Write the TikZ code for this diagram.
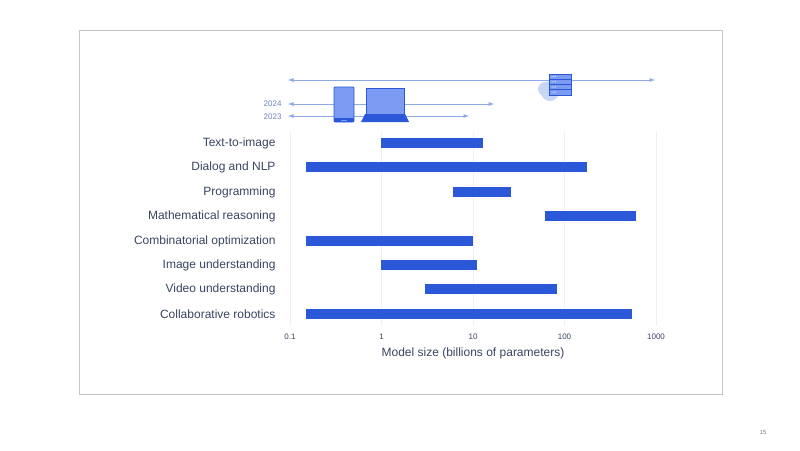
\documentclass[tikz,border=0pt]{standalone}
\usepackage{fontspec}
\setmainfont{Liberation Sans}
\begin{document}
\begin{tikzpicture}[x=1pt,y=-1pt,
  bar/.style={fill=barblue,draw=none},
  grid/.style={draw=gray!12,line width=0.8},
  lab/.style={anchor=east,font=\fontsize{12}{14}\selectfont,text=txt},
  tick/.style={font=\fontsize{8}{10}\selectfont,text=txt},
  arr/.style={draw=lightarr,line width=0.9,<->,>=latex}]
\definecolor{barblue}{HTML}{2B57D9}
\definecolor{txt}{HTML}{3A4560}
\definecolor{lightarr}{HTML}{8FA8E6}
\definecolor{iconfill}{HTML}{7B9CF2}
\definecolor{icondark}{HTML}{2B57D9}
\definecolor{cloudc}{HTML}{C9D6F7}
\useasboundingbox (0,0) rectangle (800,450);
\fill[white] (0,0) rectangle (800,450);
\draw[gray!45,line width=0.8] (79,30) rectangle (722,394);
\node[font=\fontsize{6}{7}\selectfont,text=gray] (pg) at (763,432) {15};
% grid
\foreach \x/\t in {290/0.1,381.5/1,473/10,564.5/100,656/1000}{
  \draw[grid] (\x,132) -- (\x,326);
  \node[tick] at (\x,337) {\t};}
\node[font=\fontsize{12}{14}\selectfont,text=txt] (axt) at (473,353) {Model size (billions of parameters)};
% bars
\foreach \y/\a/\b/\l in {143/381/483/Text-to-image,167/306/587/Dialog and NLP,192/453/511/Programming,216/545/636/Mathematical reasoning,241/306/473/Combinatorial optimization,265/381/477/Image understanding,289/425/557/Video understanding,314/306/632/Collaborative robotics}{
  \fill[bar] (\a,\y-5) rectangle (\b,\y+5);
  \node[lab] at (279,\y) {\l};}
% top arrows
\coordinate (l0) at (288,80); \coordinate (r0) at (655,80);
\coordinate (l1) at (288,104); \coordinate (r1) at (494,104);
\coordinate (l2) at (288,116); \coordinate (r2) at (469,116);
\draw[arr] (l0) -- (r0);
\draw[arr] (l1) -- (r1);
\draw[arr] (l2) -- (r2);
\node[anchor=east,font=\fontsize{8}{10}\selectfont,text=lightarr!80!black] (y24) at (285,104) {2024};
\node[anchor=east,font=\fontsize{8}{10}\selectfont,text=lightarr!80!black] (y23) at (285,117) {2023};
% phone
\draw[icondark,fill=iconfill,line width=0.8,rounded corners=1] (334,87) rectangle (354,122);
\fill[icondark] (334,118) rectangle (354,122);
\fill[iconfill] (341,119.5) rectangle (347,120.5);
% laptop
\draw[icondark,fill=iconfill,line width=0.8] (366,88) rectangle (404,114);
\fill[icondark] (365,114) -- (405,114) -- (409,122) -- (361,122) -- cycle;
% cloud
\fill[cloudc] (545,82) arc[start angle=270,end angle=120,radius=7]
  arc[start angle=160,end angle=20,radius=9] arc[start angle=100,end angle=-90,radius=7.5] -- cycle;
\foreach \k in {0,1,2,3}{
  \draw[icondark,fill=iconfill,line width=0.6] (549,74+5.2*\k) rectangle (571,79.2+5.2*\k);
  \foreach \d in {0,1.8,3.6} \fill[white] (552+\d,76.6+5.2*\k) circle (0.5);}
\end{tikzpicture}
\end{document}
